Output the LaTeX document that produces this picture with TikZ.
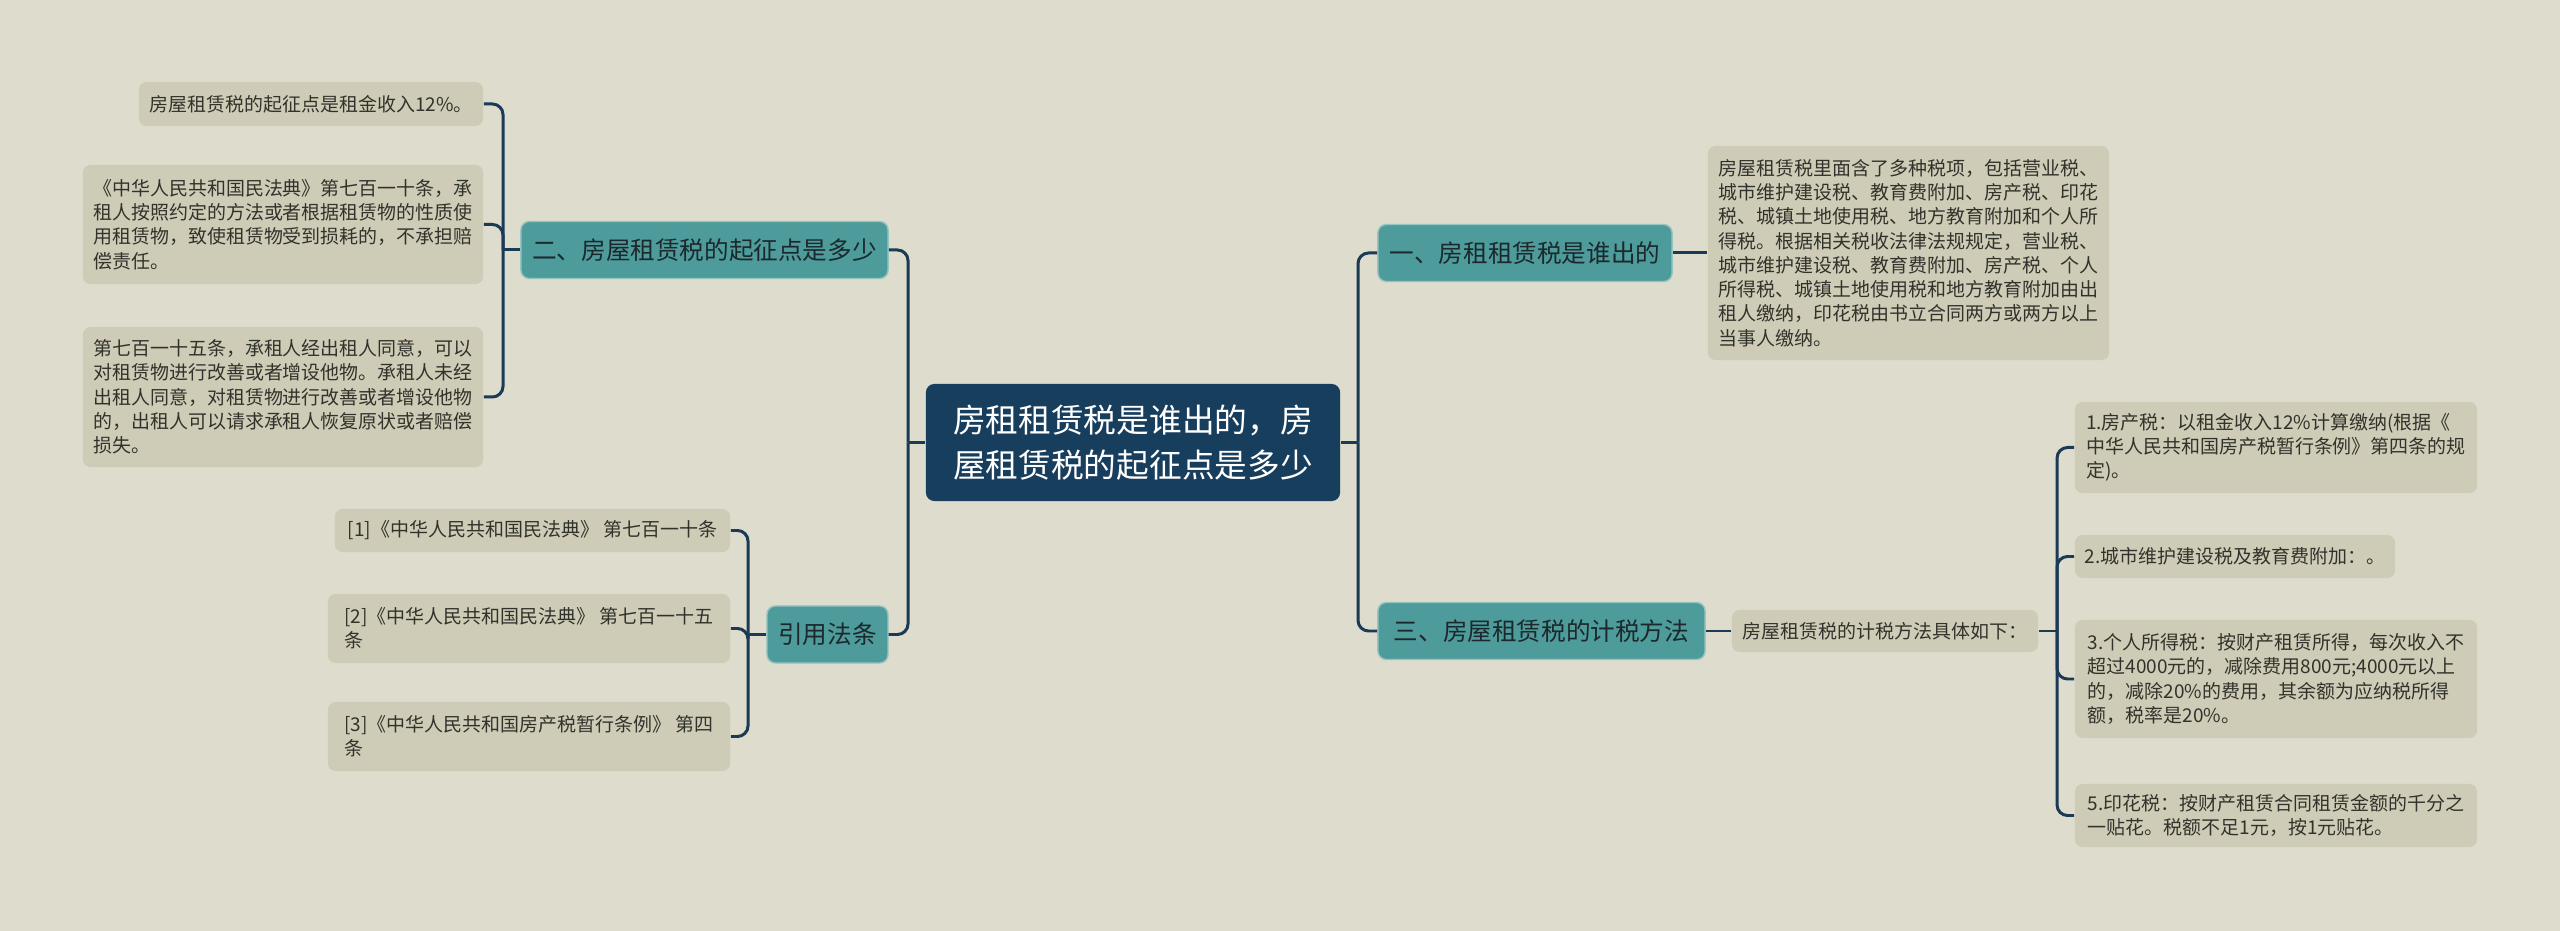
\documentclass[tikz,border=0pt]{standalone}
\usepackage{fontspec}
\setmainfont{Noto Sans CJK SC}
\definecolor{bgcol}{RGB}{222,220,204}
\definecolor{leafcol}{RGB}{206,204,182}
\definecolor{topiccol}{RGB}{77,155,155}
\definecolor{topicedge}{RGB}{150,196,192}
\definecolor{rootcol}{RGB}{24,62,94}
\definecolor{linecol}{RGB}{27,58,86}
\definecolor{leaftext}{RGB}{50,50,44}
\definecolor{topictext}{RGB}{28,40,44}
\tikzset{
  root/.style={fill=rootcol, text=white, rounded corners=2.4pt, align=left,
    inner sep=0pt, font=\fontsize{9.3}{12.8}\selectfont},
  topic/.style={fill=topiccol, draw=topicedge, line width=0.4pt, text=topictext,
    rounded corners=2.4pt, inner sep=0pt, minimum height=0.57cm,
    font=\fontsize{7}{8.5}\selectfont},
  leaf/.style={fill=leafcol, text=leaftext, rounded corners=2.2pt, align=left,
    inner sep=0pt, font=\fontsize{5.4}{6.9}\selectfont},
  link/.style={draw=linecol, line width=0.85pt, rounded corners=3pt}
}
\begin{document}
\begin{tikzpicture}[x=0.01cm,y=-0.01cm]
\useasboundingbox[fill=bgcol] (0,0) rectangle (2560,931);

\node[root, minimum width=4.14cm, minimum height=1.17cm] (root) at (1133,442.5)
  {房租租赁税是谁出的，房\\屋租赁税的起征点是多少};

\node[topic, minimum width=3.67cm] (qizheng) at (704.5,250) {二、房屋租赁税的起征点是多少};
\node[topic, minimum width=1.21cm] (fatiao) at (827.5,634.5) {引用法条};
\node[topic, minimum width=2.94cm] (shei) at (1525,253) {一、房租租赁税是谁出的};
\node[topic, minimum width=3.27cm] (jishui) at (1541.5,631) {三、房屋租赁税的计税方法};

\node[leaf, minimum width=3.44cm, minimum height=0.44cm] (qz1) at (311,104)
  {房屋租赁税的起征点是租金收入12\%。};
\node[leaf, minimum width=4.00cm, minimum height=1.19cm] (qz2) at (283,224.5)
  {《中华人民共和国民法典》第七百一十条，承\\租人按照约定的方法或者根据租赁物的性质使\\用租赁物，致使租赁物受到损耗的，不承担赔\\偿责任。};
\node[leaf, minimum width=4.00cm, minimum height=1.40cm] (qz3) at (283,397)
  {第七百一十五条，承租人经出租人同意，可以\\对租赁物进行改善或者增设他物。承租人未经\\出租人同意，对租赁物进行改善或者增设他物\\的，出租人可以请求承租人恢复原状或者赔偿\\损失。};

\node[leaf, minimum width=3.95cm, minimum height=0.43cm] (fl1) at (532.5,530.5)
  {[1]《中华人民共和国民法典》 第七百一十条};
\node[leaf, minimum width=4.02cm, minimum height=0.69cm] (fl2) at (529,628.5)
  {[2]《中华人民共和国民法典》 第七百一十五\\条};
\node[leaf, minimum width=4.02cm, minimum height=0.69cm] (fl3) at (529,736.5)
  {[3]《中华人民共和国房产税暂行条例》 第四\\条};

\node[leaf, minimum width=4.01cm, minimum height=2.14cm] (sheiinfo) at (1908.5,253)
  {房屋租赁税里面含了多种税项，包括营业税、\\城市维护建设税、教育费附加、房产税、印花\\税、城镇土地使用税、地方教育附加和个人所\\得税。根据相关税收法律法规规定，营业税、\\城市维护建设税、教育费附加、房产税、个人\\所得税、城镇土地使用税和地方教育附加由出\\租人缴纳，印花税由书立合同两方或两方以上\\当事人缴纳。};

\node[leaf, minimum width=3.06cm, minimum height=0.42cm] (jsinfo) at (1885,631)
  {房屋租赁税的计税方法具体如下：};
\node[leaf, minimum width=4.02cm, minimum height=0.91cm] (js1) at (2276,447.5)
  {1.房产税：以租金收入12\%计算缴纳(根据《\\中华人民共和国房产税暂行条例》第四条的规\\定)。};
\node[leaf, minimum width=3.20cm, minimum height=0.43cm] (js2) at (2235,556.5)
  {2.城市维护建设税及教育费附加：。};
\node[leaf, minimum width=4.02cm, minimum height=1.18cm] (js3) at (2276,679)
  {3.个人所得税：按财产租赁所得，每次收入不\\超过4000元的，减除费用800元;4000元以上\\的，减除20\%的费用，其余额为应纳税所得\\额，税率是20\%。};
\node[leaf, minimum width=4.02cm, minimum height=0.63cm] (js5) at (2276,815.5)
  {5.印花税：按财产租赁合同租赁金额的千分之\\一贴花。税额不足1元，按1元贴花。};

\coordinate (lj) at (908,442.5);
\coordinate (rj) at (1358,442.5);
\coordinate (qzj) at (503,250);
\coordinate (flj) at (748,634.5);
\coordinate (jsj) at (2057,631);

\draw[link] (root.west) -- (lj);
\draw[link] (lj) |- (qizheng.east);
\draw[link] (lj) |- (fatiao.east);
\draw[link] (root.east) -- (rj);
\draw[link] (rj) |- (shei.west);
\draw[link] (rj) |- (jishui.west);

\draw[link] (qizheng.west) -- (qzj);
\draw[link] (qzj) |- (qz1.east);
\draw[link] (qzj) |- (qz2.east);
\draw[link] (qzj) |- (qz3.east);

\draw[link] (fatiao.west) -- (flj);
\draw[link] (flj) |- (fl1.east);
\draw[link] (flj) |- (fl2.east);
\draw[link] (flj) |- (fl3.east);

\draw[link] (shei.east) -- (sheiinfo.west);
\draw[link] (jishui.east) -- (jsinfo.west);
\draw[link] (jsinfo.east) -- (jsj);
\draw[link] (jsj) |- (js1.west);
\draw[link] (jsj) |- (js2.west);
\draw[link] (jsj) |- (js3.west);
\draw[link] (jsj) |- (js5.west);
\end{tikzpicture}
\end{document}
